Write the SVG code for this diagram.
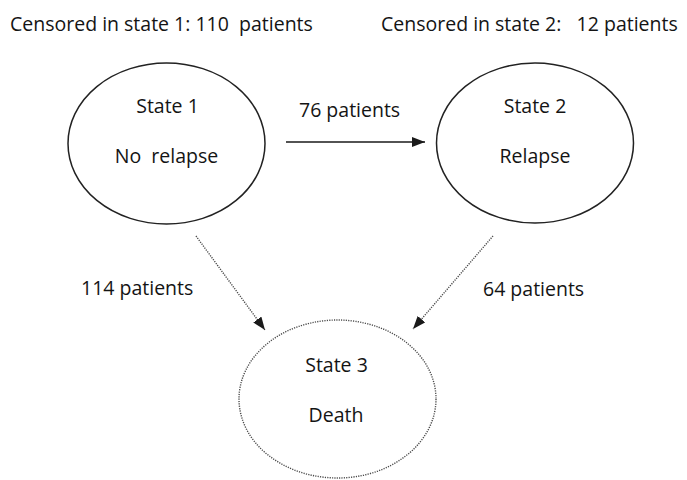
<svg xmlns="http://www.w3.org/2000/svg" width="687" height="480" viewBox="0 0 687 480">
<style>
text { font-family: "Open Sans", "Liberation Sans", sans-serif; font-size: 19.5px; fill: #141414; }
.mid { text-anchor: middle; }
.state { fill: #ffffff; stroke: #222222; stroke-width: 1.5; }
.dotted { fill: #ffffff; stroke: #4a4a4a; stroke-width: 1.4; stroke-dasharray: 1.2 1.2; }
.solid { stroke: #1a1a1a; stroke-width: 1.5; fill: none; }
.dline { stroke: #4a4a4a; stroke-width: 1.4; stroke-dasharray: 1.2 1.2; fill: none; }
</style>
<defs>
<marker id="ah" viewBox="0 0 13 10" refX="13" refY="5" markerWidth="13" markerHeight="10" markerUnits="userSpaceOnUse" orient="auto">
<path d="M0,0 L13,5 L0,10 Z" fill="#1a1a1a"/>
</marker>
</defs>
<rect width="687" height="480" fill="#ffffff"/>
<g id="labels">
<text x="10" y="31" xml:space="preserve">Censored in state 1: 110  patients</text>
<text x="381" y="31" xml:space="preserve">Censored in state 2:   12 patients</text>
</g>
<g id="connectors">
<line class="solid" x1="286" y1="142" x2="425" y2="142" marker-end="url(#ah)"/>
<line class="dline" x1="196" y1="236" x2="265" y2="330" marker-end="url(#ah)"/>
<line class="dline" x1="493" y1="236" x2="413" y2="329" marker-end="url(#ah)"/>
<text x="299" y="117">76 patients</text>
<text x="81" y="295">114 patients</text>
<text x="483" y="296">64 patients</text>
</g>
<g id="state1">
<ellipse class="state" cx="166.5" cy="143.5" rx="98.5" ry="80.5"/>
<text class="mid" x="167.5" y="113">State 1</text>
<text class="mid" x="166.5" y="163" xml:space="preserve">No  relapse</text>
</g>
<g id="state2">
<ellipse class="state" cx="535" cy="143" rx="98.5" ry="80"/>
<text class="mid" x="535" y="113">State 2</text>
<text class="mid" x="535" y="163">Relapse</text>
</g>
<g id="state3">
<ellipse class="dotted" cx="337.5" cy="399" rx="98.5" ry="79"/>
<text class="mid" x="336.5" y="372">State 3</text>
<text class="mid" x="336" y="422">Death</text>
</g>
</svg>
